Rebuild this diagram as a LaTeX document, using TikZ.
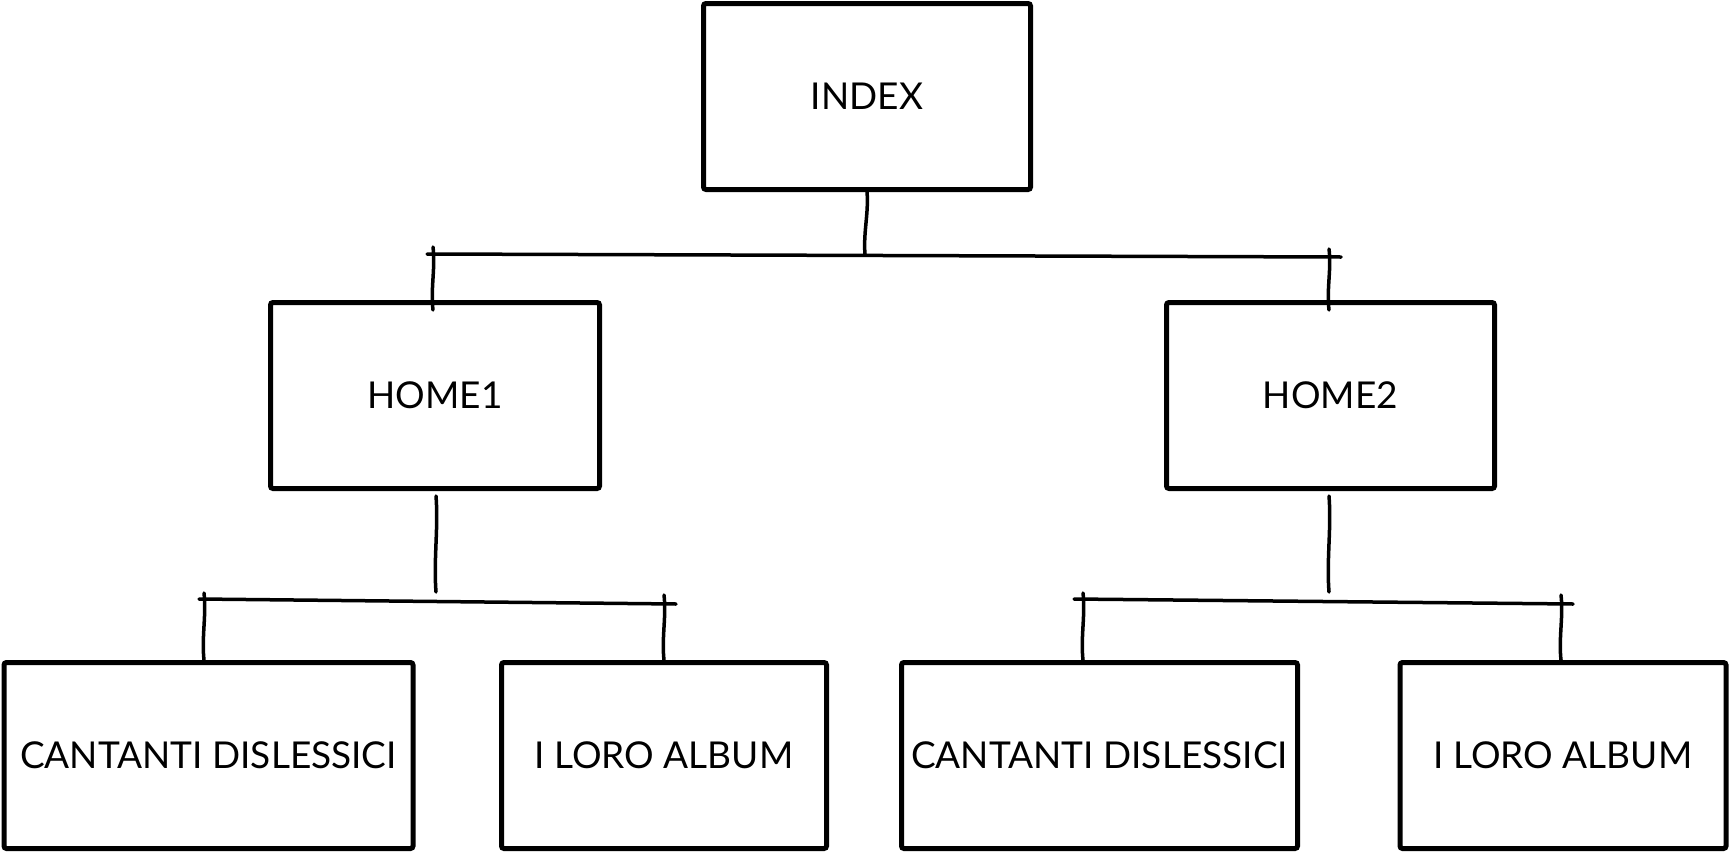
\documentclass[tikz,border=0pt]{standalone}
\usepackage{fontspec}
\setmainfont{Lato}
\usetikzlibrary{calc}
\begin{document}
\begin{tikzpicture}[x=1pt,y=-1pt,
  box/.style={draw=black, line width=5pt, rounded corners=2.5pt, inner sep=0pt,
    font=\fontsize{37}{42}\selectfont, minimum height=186pt},
  link/.style={draw=black, line width=3.5pt, line cap=round},
  wavy/.style={to path={.. controls ($(\tikztostart)!0.33!(\tikztotarget)+(2.5,0)$) and ($(\tikztostart)!0.66!(\tikztotarget)+(-2.5,0)$) .. (\tikztotarget)}}]
\useasboundingbox (0,0) rectangle (1730,854);
\fill[white] (0,0) rectangle (1730,854);
% boxes
\node[box, minimum width=327pt] (index) at (867,96.5) {INDEX};
\node[box, minimum width=329pt] (home1) at (435,395.5) {HOME1};
\node[box, minimum width=328pt] (home2) at (1330.5,395.5) {HOME2};
\node[box, minimum width=409pt] (c1) at (208.5,755.5) {CANTANTI DISLESSICI};
\node[box, minimum width=325pt] (a1) at (664,755.5) {I LORO ALBUM};
\node[box, minimum width=396pt] (c2) at (1099.5,755.5) {CANTANTI DISLESSICI};
\node[box, minimum width=326pt] (a2) at (1563,755.5) {I LORO ALBUM};
% level 1 connectors
\coordinate (b0L) at (427,254);
\coordinate (b0R) at (1341,257);
\coordinate (b0M) at (865,254);
\coordinate (t1) at (433,247);
\coordinate (t2) at (1329,249);
\draw[link] (b0L) -- (b0R);
\draw[link, wavy] (index.south) to (b0M);
\draw[link, wavy] (t1) to ([yshift=-10pt]t1 |- home1.north);
\draw[link, wavy] (t2) to ([yshift=-10pt]t2 |- home2.north);
% level 2 left
\coordinate (b1L) at (199,599);
\coordinate (b1R) at (676,604);
\coordinate (b1M) at (436,592);
\coordinate (t11) at (204,593);
\coordinate (t12) at (664,595);
\draw[link] (b1L) -- (b1R);
\draw[link, wavy] ([yshift=-5pt]b1M |- home1.south) to (b1M);
\draw[link, wavy] (t11) to (t11 |- c1.north);
\draw[link, wavy] (t12) to (t12 |- a1.north);
% level 2 right
\coordinate (b2L) at (1074,599);
\coordinate (b2R) at (1573,604);
\coordinate (b2M) at (1329,592);
\coordinate (t21) at (1083,593);
\coordinate (t22) at (1561,595);
\draw[link] (b2L) -- (b2R);
\draw[link, wavy] ([yshift=-5pt]b2M |- home2.south) to (b2M);
\draw[link, wavy] (t21) to (t21 |- c2.north);
\draw[link, wavy] (t22) to (t22 |- a2.north);
\end{tikzpicture}
\end{document}
